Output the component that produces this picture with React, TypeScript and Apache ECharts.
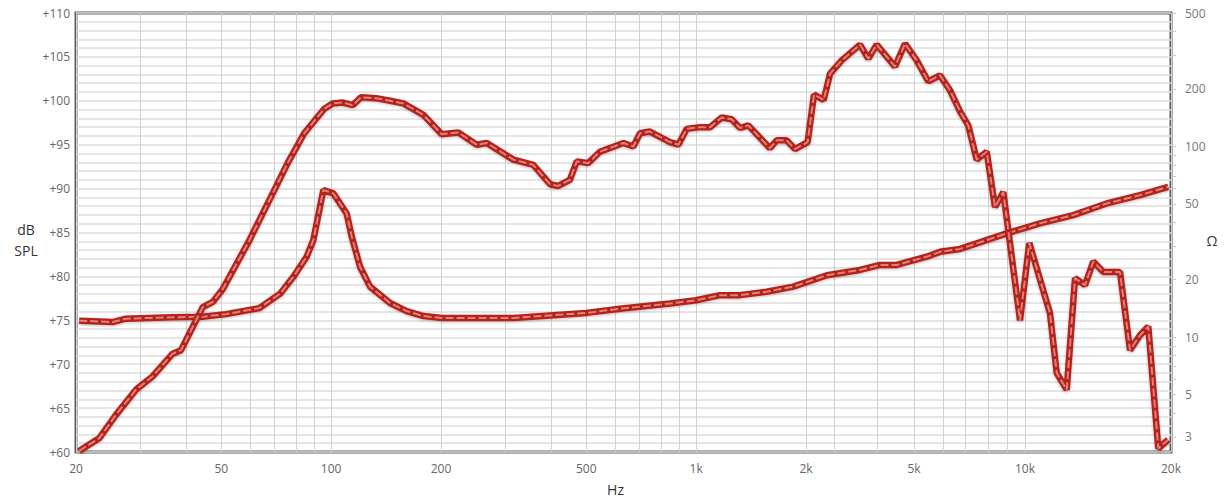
import React, { useEffect, useRef } from "react";
import * as echarts from "echarts";

// ---- data ----
const splFreqHz = [20.4, 20.9, 23.2, 25.7, 29.2, 32.4, 36.8, 38.8, 40.9, 44.5, 47.4, 50.4, 59.7, 70.6, 76.0, 84.4, 95.8, 101, 107.6, 114.6, 120.7, 132.7, 145, 157.7, 178.9, 200.9, 223, 250.5, 266.9, 315.6, 358, 397.8, 419, 451, 471, 506, 545, 632, 673, 702, 747, 848, 894, 942, 1025, 1092, 1175, 1251, 1319, 1390, 1593, 1662, 1770, 1866, 2048, 2246, 2583, 2837, 3159, 3570, 3774, 3992, 4459, 4736, 5086, 5470, 5888, 6301, 6759, 7135, 7492, 7940, 8354, 8796, 9712, 10206, 11260, 11625, 12190, 12680, 13295, 13830, 14503, 15699, 16463, 17262, 17956, 18830, 19740];
const splDb = [60.1, 60.4, 61.6, 64.2, 67.1, 68.6, 71.2, 71.6, 73.5, 76.5, 77.1, 78.5, 84.1, 90.2, 92.9, 96.3, 99.1, 99.7, 99.8, 99.5, 100.4, 100.3, 100.0, 99.7, 98.4, 96.2, 96.4, 95.0, 95.2, 93.3, 92.7, 90.5, 90.3, 91.0, 93.1, 92.9, 94.2, 95.2, 94.8, 96.3, 96.5, 95.3, 95.0, 96.8, 97.0, 97.0, 98.1, 97.9, 96.9, 97.2, 94.6, 95.5, 95.5, 94.5, 95.3, 100.7, 100.1, 103.1, 104.6, 106.4, 104.8, 106.4, 103.9, 106.5, 104.6, 102.2, 102.9, 101.2, 98.8, 97.2, 93.3, 94.2, 87.9, 89.6, 75.0, 83.8, 75.8, 69.0, 67.1, 79.8, 79.0, 81.7, 80.5, 80.5, 71.6, 73.3, 74.3, 60.4, 61.4];

const impFreqHz = [20.4, 25.2, 27.4, 36.8, 44.5, 51.5, 63.6, 72.5, 78.8, 85.7, 89.4, 95.2, 101.4, 110.3, 113.9, 120, 127.8, 145, 161, 179, 201, 316, 398, 501, 619, 848, 1000, 1163, 1319, 1560, 1846, 2709, 3570, 4073, 4504, 5416, 5888, 6759, 7492, 8983, 10738, 12578, 14740, 17262, 19740];
const impOhm = [12.2, 12.0, 12.5, 12.7, 12.8, 13.2, 14.2, 16.9, 20.7, 26.4, 32.3, 59.0, 56.7, 44.5, 33.6, 23.4, 18.4, 15.1, 13.7, 12.9, 12.6, 12.6, 13.0, 13.4, 14.1, 15.0, 15.6, 16.6, 16.6, 17.3, 18.4, 21.1, 22.5, 23.9, 23.9, 26.4, 28.0, 29.0, 31.0, 35.0, 39.5, 43.6, 50.2, 55.5, 61.4];

const xLabelFreqs = [20, 50, 100, 200, 500, 1000, 2000, 5000, 10000, 20000];
const xLabelTexts = ["20", "50", "100", "200", "500", "1k", "2k", "5k", "10k", "20k"];
const xGridFreqs = [20, 30, 40, 50, 60, 70, 80, 90, 100, 200, 300, 400, 500, 600, 700, 800, 900, 1000, 2000, 3000, 4000, 5000, 6000, 7000, 8000, 9000, 10000, 20000];

// the reference's frequency scale is logarithmic up to 2 kHz and uneven above;
// anchor frequencies and their axis positions (in decades above 20 Hz)
const xAnchorFreqs = [20, 2000, 3000, 4000, 5000, 6000, 7000, 8000, 9000, 10000, 20000];
const xAnchorPos = [0, 2.0, 2.0767, 2.1945, 2.2959, 2.3753, 2.4356, 2.4986, 2.5507, 2.6, 3.0];

const ohmLabels = [3, 5, 10, 20, 50, 100, 200, 500];
const ohmTicks = [3, 4, 5, 6, 7, 8, 9, 10, 20, 30, 40, 50, 60, 70, 80, 90, 100, 200, 300, 400, 500];
const ohmMin = 2.5;
const ohmMax = 500;
const dbMin = 60;
const dbMax = 110;

function fpos(f: number): number {
  const lf = Math.log10(f);
  const n = xAnchorFreqs.length;
  let i = 0;
  while (i < n - 2 && lf > Math.log10(xAnchorFreqs[i + 1])) i++;
  const l0 = Math.log10(xAnchorFreqs[i]);
  const l1 = Math.log10(xAnchorFreqs[i + 1]);
  const t = (lf - l0) / (l1 - l0);
  return xAnchorPos[i] + t * (xAnchorPos[i + 1] - xAnchorPos[i]);
}

const RED = "#b3241c";
const INNER = "rgba(228,140,130,0.9)";
const FONT = "Open Sans";

export default function App() {
  const ref = useRef<HTMLDivElement>(null);

  useEffect(() => {
    if (!ref.current) return;
    const chart = echarts.init(ref.current, null, { renderer: "svg" });

    const splData = splFreqHz.map((f, i) => [fpos(f), splDb[i]]);
    const impData = impFreqHz.map((f, i) => [fpos(f), Math.log10(impOhm[i])]);
    const xLabelPos = xLabelFreqs.map(fpos);

    const thick = {
      width: 6.5,
      color: RED,
      shadowColor: "rgba(0,0,0,0.25)",
      shadowBlur: 3,
      shadowOffsetY: 1,
    };
    const inner = { width: 2, color: INNER, type: [8, 3] as any };

    chart.setOption({
      animation: false,
      textStyle: { fontFamily: FONT },
      grid: {
        left: 76,
        right: 56,
        top: 13,
        bottom: 49,
        show: true,
        borderColor: "#5c5c5c",
        borderWidth: 3,
        backgroundColor: "#ffffff",
        outerBoundsMode: "none",
      },
      graphic: [
        {
          type: "text",
          x: 26,
          y: 240,
          style: {
            text: "dB\nSPL",
            fill: "#333",
            font: "14px 'Open Sans'",
            lineHeight: 21,
            align: "center",
            verticalAlign: "middle",
          },
        },
        {
          type: "text",
          x: 1212,
          y: 240,
          style: {
            text: "Ω",
            fill: "#333",
            font: "14px 'Open Sans'",
            align: "center",
            verticalAlign: "middle",
          },
        },
      ],
      xAxis: {
        type: "value",
        min: 0,
        max: fpos(20000),
        name: "Hz",
        nameLocation: "middle",
        nameGap: 30,
        nameTextStyle: { color: "#333", fontSize: 14, fontFamily: FONT, padding: [0, 16, 0, 0] },
        axisLine: { show: false },
        axisTick: { show: false, customValues: xGridFreqs.map(fpos) },
        axisLabel: {
          customValues: xLabelPos,
          showMinLabel: true,
          showMaxLabel: true,
          color: "#666",
          fontSize: 12,
          margin: 10,
          fontFamily: FONT,
          formatter: (v: number) => {
            let best = 0;
            for (let i = 1; i < xLabelPos.length; i++) {
              if (Math.abs(xLabelPos[i] - v) < Math.abs(xLabelPos[best] - v)) best = i;
            }
            return xLabelTexts[best];
          },
        },
        splitLine: { show: true, lineStyle: { color: "#d0d0d0", width: 1 } },
      },
      yAxis: [
        {
          type: "value",
          min: dbMin,
          max: dbMax,
          interval: 5,
          position: "left",
          axisLine: { show: false },
          axisTick: { show: false },
          axisLabel: {
            color: "#666",
            fontSize: 12,
            margin: 6,
            fontFamily: FONT,
            formatter: (v: number) => "+" + v,
          },
          splitLine: { show: true, lineStyle: { color: "#dcdcdc", width: 1.5 } },
          minorTick: { show: false, splitNumber: 5 },
          minorSplitLine: { show: true, lineStyle: { color: "#dcdcdc", width: 1.5 } },
        },
        {
          type: "value",
          min: Math.log10(ohmMin),
          max: Math.log10(ohmMax),
          position: "right",
          axisLine: { show: false },
          axisTick: {
            show: true,
            inside: false,
            length: 5,
            customValues: ohmTicks.map((v) => Math.log10(v)),
            lineStyle: { color: "#c8c8c8", width: 1 },
          },
          axisLabel: {
            customValues: ohmLabels.map((v) => Math.log10(v)),
            color: "#777",
            fontSize: 12,
            margin: 14,
            fontFamily: FONT,
            formatter: (v: number) => String(Math.round(Math.pow(10, v))),
          },
          splitLine: { show: false },
        },
      ],
      series: [
        { type: "line", name: "Impedance", yAxisIndex: 1, data: impData, symbol: "none", lineStyle: thick, z: 2 },
        { type: "line", name: "Impedance-i", yAxisIndex: 1, data: impData, symbol: "none", lineStyle: inner, z: 3 },
        { type: "line", name: "SPL", yAxisIndex: 0, data: splData, symbol: "none", lineStyle: thick, z: 4 },
        { type: "line", name: "SPL-i", yAxisIndex: 0, data: splData, symbol: "none", lineStyle: inner, z: 5 },
      ],
    });

    return () => chart.dispose();
  }, []);

  return (
    <div
      ref={ref}
      style={{ position: "fixed", left: 0, top: 0, width: 1227, height: 501, background: "#fff" }}
    />
  );
}
